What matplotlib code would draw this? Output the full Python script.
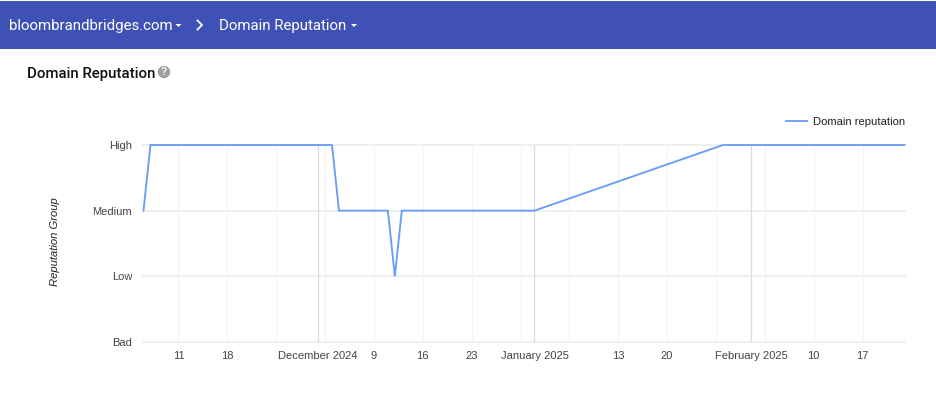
import matplotlib
matplotlib.use("Agg")
import matplotlib.pyplot as plt
import matplotlib.dates as mdates
from matplotlib.patches import Rectangle, Circle, Polygon
from datetime import date

W, H = 937, 394
dates = [date(2024,11,6), date(2024,11,7), date(2024,12,3), date(2024,12,4), date(2024,12,11),
         date(2024,12,12), date(2024,12,13), date(2025,1,1), date(2025,1,28), date(2025,2,23)]
values = [2, 3, 3, 2, 2, 1, 2, 2, 3, 3]
y_levels = [0, 1, 2, 3]
y_labels = ["Bad", "Low", "Medium", "High"]
week_ticks = [date(2024,11,11), date(2024,11,18), date(2024,11,25), date(2024,12,2), date(2024,12,9),
              date(2024,12,16), date(2024,12,23), date(2024,12,30), date(2025,1,6), date(2025,1,13),
              date(2025,1,20), date(2025,1,27), date(2025,2,3), date(2025,2,10), date(2025,2,17)]
week_labels = ["11", "18", "", "", "9", "16", "23", "", "", "13", "20", "", "", "10", "17"]
month_ticks = [date(2024,12,1), date(2025,1,1), date(2025,2,1)]
month_labels = ["December 2024", "January 2025", "February 2025"]
x_start, x_end = date(2024,11,6), date(2025,2,23)
site = "bloombrandbridges.com"
page = "Domain Reputation"
series_name = "Domain reputation"
y_title = "Reputation Group"

plt.rcParams["font.family"] = ["Liberation Sans", "DejaVu Sans"]
fig = plt.figure(figsize=(W/100, H/100), dpi=100, facecolor="white")

# page chrome in pixel coordinates
ui = fig.add_axes([0, 0, 1, 1], zorder=0)
ui.set_xlim(0, W); ui.set_ylim(H, 0); ui.axis("off")
ui.add_patch(Rectangle((0, 1), W, 48, fc="#3F51B5", ec="none"))
ui.text(9, 25.5, site, color="white", family="Roboto", fontsize=10.8, va="center", ha="left")
ui.text(219.5, 25.5, page, color="white", family="Roboto", fontsize=10.85, va="center", ha="left")
for cx in (178.5, 354):
    ui.add_patch(Polygon([(cx-3, 24), (cx+3, 24), (cx, 27)], fc="white", ec="none"))
ui.plot([197.5, 202, 197.5], [20.5, 25, 29.5], color="white", lw=1.3)
ui.text(27.5, 74, page, color="#111111", family="Roboto", weight="medium", fontsize=10.85, va="center", ha="left")
ui.add_patch(Circle((164, 72), 6.2, fc="#9e9e9e", ec="none"))
ui.text(164, 72.3, "?", color="white", fontsize=7, weight="bold", va="center", ha="center")

# chart
x0, x1, y_top, y_bot = 143.5, 904.5, 145.0, 342.0
ax = fig.add_axes([x0/W, 1-y_bot/H, (x1-x0)/W, (y_bot-y_top)/H], zorder=1)
ax.patch.set_alpha(0)
ax.set_xlim(x_start, x_end)
ax.set_ylim(0, 3)
for s in ax.spines.values():
    s.set_visible(False)
ax.set_yticks(y_levels)
ax.set_yticklabels(y_labels)
ax.set_xticks(month_ticks)
ax.set_xticklabels(month_labels)
ax.set_xticks(week_ticks, minor=True)
ax.set_xticklabels(week_labels, minor=True)
ax.tick_params(axis="both", which="both", length=0, labelsize=8, labelcolor="#444444")
ax.tick_params(axis="x", which="both", pad=6.3)
ax.tick_params(axis="y", pad=8.2)
for y in y_levels:
    ax.axhline(y, color="#ececec", lw=1.2, clip_on=False, zorder=1)
for d in week_ticks:
    ax.axvline(d, color="#f3f3f3", lw=0.9, zorder=1)
for d in month_ticks:
    ax.axvline(d, color="#dcdcdc", lw=0.9, zorder=1.5)
line, = ax.plot(dates, values, color="#6a9ef5", lw=1.35, clip_on=False, zorder=3,
                solid_joinstyle="miter", label=series_name)
ax.set_ylabel(y_title, style="italic", fontsize=8.1, color="#222222", labelpad=0)
ax.yaxis.set_label_coords((60-x0)/(x1-x0), (y_bot-242)/(y_bot-y_top))
leg = ax.legend(handles=[line], loc="lower right", bbox_to_anchor=(1.0008, 1.09), frameon=False,
                fontsize=8.1, handlelength=1.87, handletextpad=0.56, borderpad=0, borderaxespad=0,
                labelcolor="#222222")

fig.savefig("out.png", dpi=100, facecolor="white")
